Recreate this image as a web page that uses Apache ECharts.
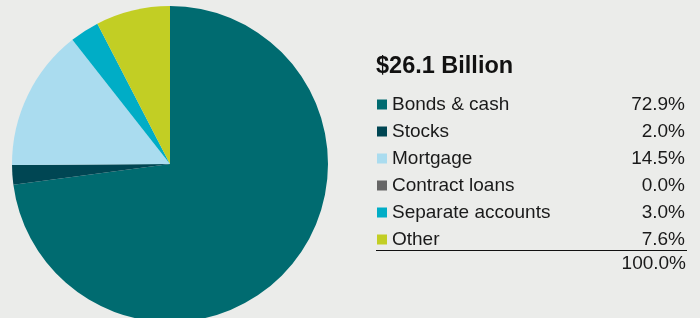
<!DOCTYPE html>
<html>
<head>
<meta charset="utf-8">
<script src="https://cdn.jsdelivr.net/npm/echarts@6/dist/echarts.min.js"></script>
<style>
html,body{margin:0;padding:0;background:#ebecea;}
#c{width:700px;height:318px;}
</style>
</head>
<body>
<div id="c"></div>
<script>
const categories = ["Bonds & cash", "Stocks", "Mortgage", "Contract loans", "Separate accounts", "Other"];
const values = [72.9, 2.0, 14.5, 0.0, 3.0, 7.6];
const colors = ["#006b70", "#004653", "#aadcef", "#666666", "#00adc6", "#c2ce24"];
const titleText = "$26.1 Billion";
const totalLabel = "100.0%";

const FONT = "'Liberation Sans', Arial, sans-serif";
const FS = 19;
const chart = echarts.init(document.getElementById('c'), null, {renderer: 'canvas'});
const valueMap = {};
categories.forEach((c, i) => valueMap[c] = values[i].toFixed(1) + '%');

chart.setOption({
  backgroundColor: '#ebecea',
  animation: false,
  title: {
    text: titleText,
    left: 376, top: 55, padding: 0,
    textStyle: {fontFamily: FONT, fontWeight: 'bold', fontSize: 23.5, color: '#111'}
  },
  legend: {
    orient: 'vertical',
    left: 377, top: 95,
    padding: 0,
    itemWidth: 10, itemHeight: 10,
    itemGap: 8.0,
    icon: 'rect',
    selectedMode: false,
    data: categories,
    formatter: name => `{n|${name}}{v|${valueMap[name]}}`,
    textStyle: {
      fontFamily: FONT, fontSize: FS, color: '#1a1a1a',
      rich: {
        n: {width: 213, fontFamily: FONT, fontSize: FS, color: '#1a1a1a', lineHeight: 18, height: 18},
        v: {width: 80, align: 'right', fontFamily: FONT, fontSize: FS, color: '#1a1a1a', lineHeight: 18, height: 18}
      }
    }
  },
  graphic: [
    {type: 'line', shape: {x1: 376, y1: 250.5, x2: 687, y2: 250.5}, style: {stroke: '#111', lineWidth: 1.2}},
    {type: 'text', x: 686, y: 264, style: {text: totalLabel, fontFamily: FONT, fontSize: FS, fill: '#1a1a1a', textAlign: 'right', textVerticalAlign: 'middle'}}
  ],
  series: [{
    type: 'pie',
    center: [170, 164],
    radius: [0, 158],
    startAngle: 90,
    clockwise: true,
    label: {show: false},
    labelLine: {show: false},
    emphasis: {disabled: true},
    silent: true,
    itemStyle: {borderWidth: 0},
    data: categories.map((c, i) => ({name: c, value: values[i], itemStyle: {color: colors[i]}}))
  }]
});
</script>
</body>
</html>
